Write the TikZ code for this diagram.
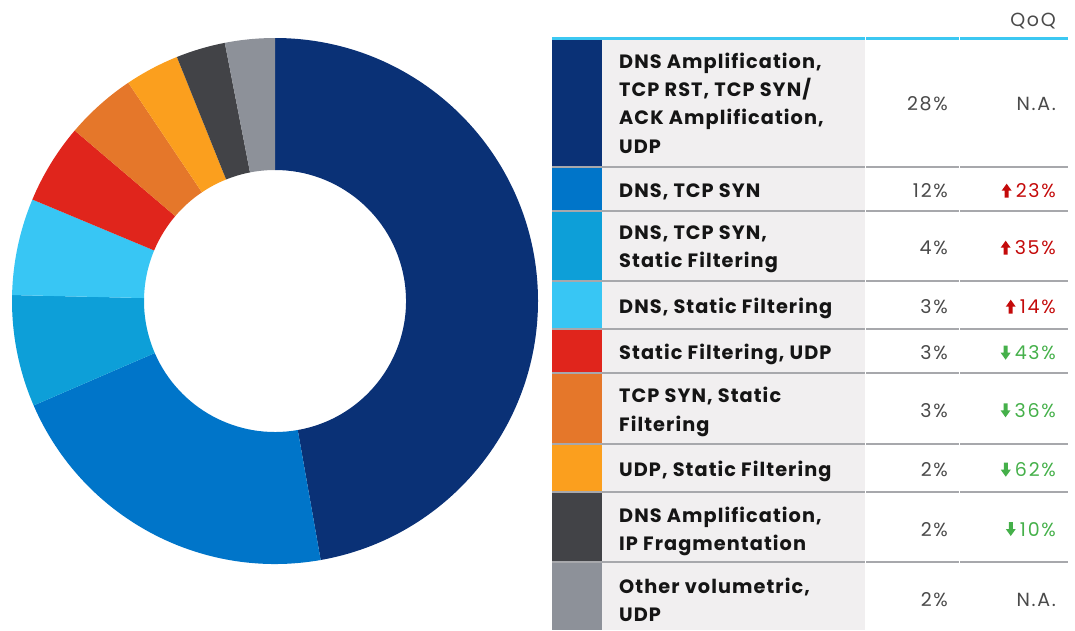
\documentclass[tikz,border=0pt]{standalone}
\usepackage{fontspec}
\setmainfont{Poppins}
\newfontfamily\labfont{Poppins}[LetterSpace=5.5]
\newfontfamily\numfont{Poppins}[LetterSpace=9]
\definecolor{cNavy}{HTML}{0A3176}
\definecolor{cBlue}{HTML}{0075C9}
\definecolor{cMid}{HTML}{0D9FD8}
\definecolor{cSky}{HTML}{38C6F4}
\definecolor{cRed}{HTML}{E0251C}
\definecolor{cOrange}{HTML}{E5772A}
\definecolor{cYellow}{HTML}{FB9F1E}
\definecolor{cDark}{HTML}{424347}
\definecolor{cGray}{HTML}{8D9199}
\definecolor{colbg}{HTML}{F1EFF0}
\definecolor{rule}{HTML}{A7A8AC}
\definecolor{topline}{HTML}{3CC8F2}
\definecolor{labc}{HTML}{151515}
\definecolor{numc}{HTML}{4A4A4A}
\definecolor{upc}{HTML}{C40A0A}
\definecolor{downc}{HTML}{45B04A}
\begin{document}
\begin{tikzpicture}[x=1pt,y=-1pt,
  lab/.style={font=\labfont\fontsize{19.3}{28.3}\selectfont\bfseries, text=labc, anchor=west, align=left, inner sep=0pt},
  pct/.style={font=\numfont\fontsize{19}{22}\selectfont, text=numc, anchor=base east, inner sep=0pt},
  qoqup/.style={pct, text=upc},
  qoqdown/.style={pct, text=downc},
  rowrule/.style={draw=rule, line width=2pt},
  uparr/.pic={\fill (-5,-14) -- (0,-7) -- (-3,-7) -- (-3,0) -- (-7,0) -- (-7,-7) -- (-10,-7) -- cycle;},
  downarr/.pic={\fill (-5,0) -- (0,-7) -- (-3,-7) -- (-3,-14) -- (-7,-14) -- (-7,-7) -- (-10,-7) -- cycle;}
]
\useasboundingbox (0,0) rectangle (1075,630);
% donut
\begin{scope}[shift={(275,301)}]
\foreach \a/\b/\c in {-90/80/cNavy, 80/156.6/cBlue, 156.6/181.3/cMid, 181.3/202.7/cSky, 202.7/220.4/cRed, 220.4/236.1/cOrange, 236.1/248.1/cYellow, 248.1/259/cDark, 259/270/cGray}
  \fill[\c] (\a:263) arc[start angle=\a, end angle=\b, radius=263] -- (\b:131) arc[start angle=\b, end angle=\a, radius=131] -- cycle;
\end{scope}
% table background
\fill[colbg] (602,39) rectangle (865,630);
\fill[cNavy] (552,39) rectangle (602,167);
\fill[cBlue] (552,167) rectangle (602,211);
\fill[cMid] (552,211) rectangle (602,281);
\fill[cSky] (552,281) rectangle (602,329);
\fill[cRed] (552,329) rectangle (602,373);
\fill[cOrange] (552,373) rectangle (602,444);
\fill[cYellow] (552,444) rectangle (602,492);
\fill[cDark] (552,492) rectangle (602,562);
\fill[cGray] (552,562) rectangle (602,630);
% rules
\draw[topline, line width=2.6pt] (552,38.5) -- (1068,38.5);
\foreach \y in {167,211,281,329,373,444,492,562}
  \draw[rowrule] (552,\y) -- (1068,\y);
\draw[white, line width=1.2pt] (865.6,36) -- (865.6,630);
\draw[white, line width=1.2pt] (959.5,36) -- (959.5,630);
% header
\node[pct, text=numc] (hdr) at (1056,26) {QoQ};
% labels
\node[lab] (l1) at (619,103) {DNS Amplification,\\TCP RST, TCP SYN/\\ACK Amplification,\\UDP};
\node[lab] (l2) at (619,192) {DNS, TCP SYN};
\node[lab] (l3) at (619,249) {DNS, TCP SYN,\\Static Filtering};
\node[lab] (l4) at (619,308.5) {DNS, Static Filtering};
\node[lab] (l5) at (619,354.5) {Static Filtering, UDP};
\node[lab] (l6) at (619,412) {TCP SYN, Static\\Filtering};
\node[lab] (l7) at (619,471) {UDP, Static Filtering};
\node[lab] (l8) at (619,531.5) {DNS Amplification,\\IP Fragmentation};
\node[lab] (l9) at (619,600) {Other volumetric,\\UDP};
% percentages
\node[pct] (p1) at (948,110.5) {28\%};
\node[pct] (p2) at (948,197.7) {12\%};
\node[pct] (p3) at (948,254.7) {4\%};
\node[pct] (p4) at (948,313.7) {3\%};
\node[pct] (p5) at (948,359.7) {3\%};
\node[pct] (p6) at (948,417.3) {3\%};
\node[pct] (p7) at (948,476.7) {2\%};
\node[pct] (p8) at (948,536) {2\%};
\node[pct] (p9) at (948,606.7) {2\%};
% QoQ
\node[pct] (q1) at (1056,110.5) {N.A.};
\node[qoqup] (q2) at (1056,197.7) {23\%};
\node[qoqup] (q3) at (1056,254.7) {35\%};
\node[qoqup] (q4) at (1056,313.7) {14\%};
\node[qoqdown] (q5) at (1056,359.7) {43\%};
\node[qoqdown] (q6) at (1056,417.3) {36\%};
\node[qoqdown] (q7) at (1056,476.7) {62\%};
\node[qoqdown] (q8) at (1056,536) {10\%};
\node[pct] (q9) at (1056,606.7) {N.A.};
\pic[upc] at ([xshift=-4pt]q2.base west) {uparr};
\pic[upc] at ([xshift=-4pt]q3.base west) {uparr};
\pic[upc] at ([xshift=-4pt]q4.base west) {uparr};
\pic[downc] at ([xshift=-4pt]q5.base west) {downarr};
\pic[downc] at ([xshift=-4pt]q6.base west) {downarr};
\pic[downc] at ([xshift=-4pt]q7.base west) {downarr};
\pic[downc] at ([xshift=-4pt]q8.base west) {downarr};
\end{tikzpicture}
\end{document}
